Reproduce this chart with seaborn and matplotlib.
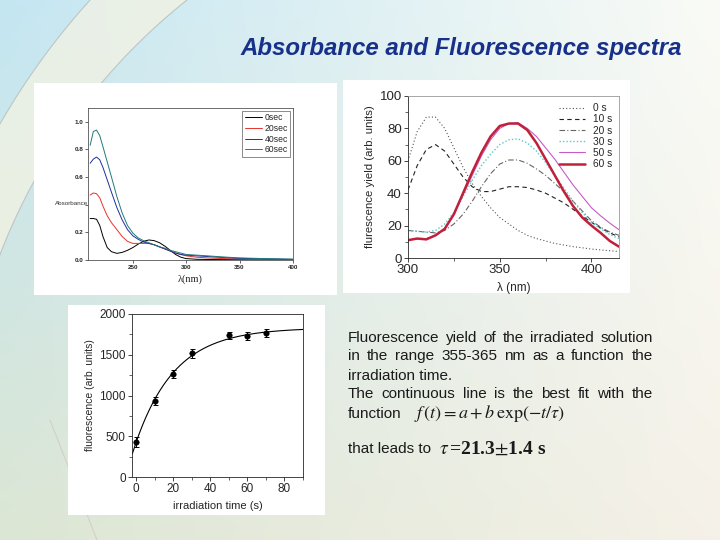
import matplotlib
matplotlib.use("Agg")
import matplotlib.pyplot as plt
import seaborn as sns
import numpy as np
from matplotlib.patches import Rectangle, Polygon
from matplotlib.ticker import MultipleLocator

# ---- datos: absorbancia ----
wl_abs = [210, 213, 216, 219, 222, 226, 230, 235, 240, 245, 250, 255, 260, 265,
          270, 275, 280, 285, 290, 295, 300, 310, 320, 335, 350, 375, 400]
abs_0 = [.30, .30, .295, .25, .17, .09, .06, .048, .055, .07, .09, .115, .135, .145,
         .14, .125, .10, .07, .04, .02, .01, .005, .004, .003, .002, .001, 0.0]
abs_20 = [.47, .485, .48, .45, .39, .32, .27, .22, .17, .135, .12, .12, .12, .12,
          .11, .095, .08, .065, .05, .04, .03, .02, .015, .01, .008, .005, .003]
abs_40 = [.70, .73, .745, .725, .67, .58, .49, .38, .29, .22, .175, .15, .13, .12,
          .11, .095, .08, .065, .05, .04, .035, .03, .025, .018, .012, .008, .005]
abs_60 = [.83, .93, .94, .90, .82, .71, .60, .46, .34, .25, .195, .16, .14, .125,
          .11, .095, .085, .07, .06, .05, .04, .035, .03, .022, .015, .01, .006]
abs_labels = ["0sec", "20sec", "40sec", "60sec"]

# ---- datos: espectros de fluorescencia ----
wl_fl = [300, 305, 310, 315, 320, 325, 330, 335, 340, 345, 350, 355, 360, 365,
         370, 375, 380, 385, 390, 395, 400, 405, 410, 415]
fl_0 = [60, 78, 87, 87, 80, 68, 56, 46, 38, 31, 25, 21, 17, 14, 12, 10.5, 9, 8, 7,
        6.3, 5.5, 5, 4.5, 4]
fl_10 = [42, 57, 67, 70, 66, 58, 50, 44, 41, 41, 42.5, 44, 44, 43.5, 42, 40, 37, 34,
         30, 26, 22, 18.5, 15.5, 13]
fl_20 = [17, 16.5, 16, 15.5, 17, 21, 27, 35, 44, 52, 58, 60.5, 60.5, 58.5, 55, 51, 46,
         41, 35, 29, 23, 19, 16, 14]
fl_30 = [17, 16.5, 16, 17, 21, 28, 38, 48, 57, 64, 70, 73, 73.5, 71, 66, 59, 51, 43,
         35, 28, 22, 18, 14.5, 12]
fl_50 = [11, 12, 12, 14, 18, 27, 39, 51, 63, 73, 80, 83, 83.5, 80, 75, 68, 61, 53, 45,
         38, 31, 26, 21.5, 17.5]
fl_60 = [11, 12, 11.5, 14, 18, 27, 40, 53, 65, 75, 81.5, 83, 83, 79, 71, 61, 51, 41,
         32, 25, 20, 15.5, 10.5, 7]
fl_labels = ["0 s", "10 s", "20 s", "30 s", "50 s", "60 s"]

# ---- datos: fluorescencia vs tiempo ----
t_irr = [0, 10, 20, 30, 50, 60, 70]
fl_irr = [430, 930, 1262, 1516, 1738, 1734, 1770]
fl_err = [60, 50, 50, 55, 45, 50, 50]
fit_a, fit_b, fit_tau = 1831, -1407, 21.3

W, H = 720, 540


def px_rect(x0, y0, x1, y1):
    return [x0 / W, 1 - y1 / H, (x1 - x0) / W, (y1 - y0) / H]


sns.set_style("ticks")
plt.rcParams['font.family'] = ['Liberation Sans', 'DejaVu Sans']
plt.rcParams['mathtext.fontset'] = 'stix'

fig = plt.figure(figsize=(7.2, 5.4), dpi=100)

# fondo degradado con arcos decorativos (coordenadas en pixeles)
bg = fig.add_axes([0, 0, 1, 1], zorder=-10)
tl = np.array([196, 230, 242]) / 255
tr = np.array([250, 251, 246]) / 255
bl = np.array([220, 230, 212]) / 255
br = np.array([245, 241, 232]) / 255
yy, xx = np.mgrid[0:1:60j, 0:1:80j]
img = ((1 - yy)[..., None] * ((1 - xx)[..., None] * tl + xx[..., None] * tr)
       + yy[..., None] * ((1 - xx)[..., None] * bl + xx[..., None] * br))
bg.imshow(img, aspect='auto', extent=[0, W, H, 0], interpolation='bicubic')
ys_arc = np.linspace(0, 330, 60)
arc1 = 620 - np.sqrt(715 ** 2 - (ys_arc - 480) ** 2)
arc2 = 560 - np.sqrt(600 ** 2 - (ys_arc - 470) ** 2)
bg.add_patch(Polygon(np.r_[np.c_[arc1, ys_arc], np.c_[arc2, ys_arc][::-1]],
                     facecolor='#f6f3e2', alpha=0.7, edgecolor='none'))
bg.plot(arc1, ys_arc, color='#bcc6c6', lw=0.8)
bg.plot(arc2, ys_arc, color='#bcc6c6', lw=0.8)
bg.plot([50, 97], [420, 540], color='#d4d0c4', lw=0.8)
bg.set_xlim(0, W)
bg.set_ylim(H, 0)
bg.set_axis_off()

# cajas blancas
for box in [(34, 83, 337, 295), (343, 80, 630, 293), (68, 305, 325, 515)]:
    r = px_rect(*box)
    fig.patches.append(Rectangle((r[0], r[1]), r[2], r[3], transform=fig.transFigure,
                                 facecolor='white', edgecolor='none', zorder=-5))

fig.text(240 / W, 1 - 48 / H, "Absorbance and Fluorescence spectra", fontsize=17.3,
         fontweight='bold', fontstyle='italic', color='#17318a', va='center')

# ---- panel 1: absorbancia ----
ax1 = fig.add_axes(px_rect(88, 108, 293, 260))
for ys, lab, col in zip([abs_0, abs_20, abs_40, abs_60], abs_labels,
                        ['black', '#e8332e', '#1f2e9e', '#1f7a7a']):
    sns.lineplot(x=wl_abs, y=ys, ax=ax1, color=col, lw=0.7, label=lab)
ax1.set_xlim(208, 400)
ax1.set_ylim(0, 1.1)
ax1.set_xticks([250, 300, 350, 400])
ax1.set_yticks([0, .2, .4, .6, .8, 1.0])
ax1.set_yticklabels(["0.0", "0.2", "", "0.6", "0.8", "1.0"])
for lbl in ax1.get_xticklabels() + ax1.get_yticklabels():
    lbl.set_fontsize(4.5)
    lbl.set_fontweight('bold')
ax1.tick_params(length=2, width=0.5, pad=1.5)
for s in ax1.spines.values():
    s.set_linewidth(0.6)
    s.set_color('#555555')
ax1.set_xlabel("λ(nm)", fontsize=7.5, family='Liberation Serif', labelpad=3)
ax1.set_ylabel("")
fig.text(55 / W, 1 - 203 / H, "Absorbance", fontsize=4.5, va='center', color='#333333')
leg1 = ax1.legend(loc='upper right', fontsize=6.2, frameon=True, fancybox=False,
                  handlelength=2.0, borderpad=0.3, labelspacing=0.2,
                  handletextpad=0.3, borderaxespad=0.3)
leg1.get_frame().set_edgecolor('#333333')
leg1.get_frame().set_linewidth(0.5)

# ---- panel 2: espectros de fluorescencia ----
ax2 = fig.add_axes(px_rect(408, 96, 619, 258))
styles = [
    dict(color='#555555', ls=(0, (1, 2)), lw=0.8),
    dict(color='#222222', ls=(0, (4, 3)), lw=0.8),
    dict(color='#666666', ls=(0, (5, 2, 1, 2)), lw=0.8),
    dict(color='#5cc8c8', ls=(0, (1, 1.5)), lw=1.0),
    dict(color='#c45cc4', ls='-', lw=0.8),
    dict(color='#c0203a', ls='-', lw=1.8),
]
for ys, lab, st in zip([fl_0, fl_10, fl_20, fl_30, fl_50, fl_60], fl_labels, styles):
    sns.lineplot(x=wl_fl, y=ys, ax=ax2, label=lab, **st)
ax2.set_xlim(300, 415)
ax2.set_ylim(0, 100)
ax2.xaxis.set_major_locator(MultipleLocator(50))
ax2.xaxis.set_minor_locator(MultipleLocator(25))
ax2.yaxis.set_major_locator(MultipleLocator(20))
ax2.yaxis.set_minor_locator(MultipleLocator(10))
ax2.tick_params(which='major', labelsize=9.5, length=3, width=0.6, pad=1.5)
ax2.tick_params(which='minor', length=2, width=0.5)
for s in ax2.spines.values():
    s.set_linewidth(0.6)
ax2.spines['top'].set_color('#999999')
ax2.spines['right'].set_color('#999999')
ax2.set_xlabel("λ (nm)", fontsize=8.5, labelpad=4)
ax2.set_ylabel("flurescence yield (arb. units)", fontsize=8.2, labelpad=3)
ax2.legend(loc='upper right', fontsize=7.3, frameon=False, handlelength=2.6,
           labelspacing=0.12, handletextpad=0.7, borderaxespad=0.3)
ax2.get_legend()._legend_box.align = 'right'

# ---- panel 3: fluorescencia vs tiempo ----
ax3 = fig.add_axes(px_rect(132, 314, 303, 477))
t_fit = np.linspace(-2, 90, 200)
sns.lineplot(x=t_fit, y=fit_a + fit_b * np.exp(-t_fit / fit_tau), ax=ax3,
             color='black', lw=0.8)
ax3.errorbar(t_irr, fl_irr, yerr=fl_err, fmt='none', ecolor='black', elinewidth=0.7,
             capsize=1.8, capthick=0.7)
sns.scatterplot(x=t_irr, y=fl_irr, ax=ax3, color='black', s=16, edgecolor='black',
                zorder=3)
ax3.set_xlim(-2.2, 90)
ax3.set_ylim(0, 2000)
ax3.xaxis.set_major_locator(MultipleLocator(20))
ax3.xaxis.set_minor_locator(MultipleLocator(10))
ax3.yaxis.set_major_locator(MultipleLocator(500))
ax3.yaxis.set_minor_locator(MultipleLocator(250))
ax3.tick_params(which='major', labelsize=8.5, length=3, width=0.6, pad=1.5)
ax3.tick_params(which='minor', length=2, width=0.5)
for s in ax3.spines.values():
    s.set_linewidth(0.6)
ax3.set_xlabel("irradiation time (s)", fontsize=8, labelpad=4)
ax3.set_ylabel("fluorescence (arb. units)", fontsize=7.5, labelpad=3)

# ---- texto (justificado a mano) ----
renderer = fig.canvas.get_renderer()
txt_kw = dict(fontsize=11, color='#1a1a1a', va='center')
x_left, x_right = 348, 653
lines = [("Fluorescence yield of the irradiated solution", 338, True),
         ("in the range 355-365 nm as a function the", 356, True),
         ("irradiation time.", 376, False),
         ("The continuous line is the best fit with the", 394, True),
         ("function", 414, False),
         ("that leads to", 449, False)]
for ln, yv, justify in lines:
    if not justify:
        fig.text(x_left / W, 1 - yv / H, ln, **txt_kw)
        continue
    words = ln.split()
    objs = [fig.text(0, 1 - yv / H, w_, **txt_kw) for w_ in words]
    widths = [o.get_window_extent(renderer).width for o in objs]
    gap = (x_right - x_left - sum(widths)) / (len(words) - 1)
    xpos = x_left
    for o, wd in zip(objs, widths):
        o.set_x(xpos / W)
        xpos += wd + gap

fig.text(414 / W, 1 - 414 / H, r"$f\,(t) = a + b\,\exp\!\left(-t/\tau\right)$",
         fontsize=13, color='#1a1a1a', va='center')
fig.text(439 / W, 1 - 449 / H, r"$\tau\,$=21.3$\pm$1.4 s", fontsize=14,
         family='Liberation Serif', fontweight='bold', color='#1a1a1a', va='center')

fig.savefig("out.png", dpi=100)
